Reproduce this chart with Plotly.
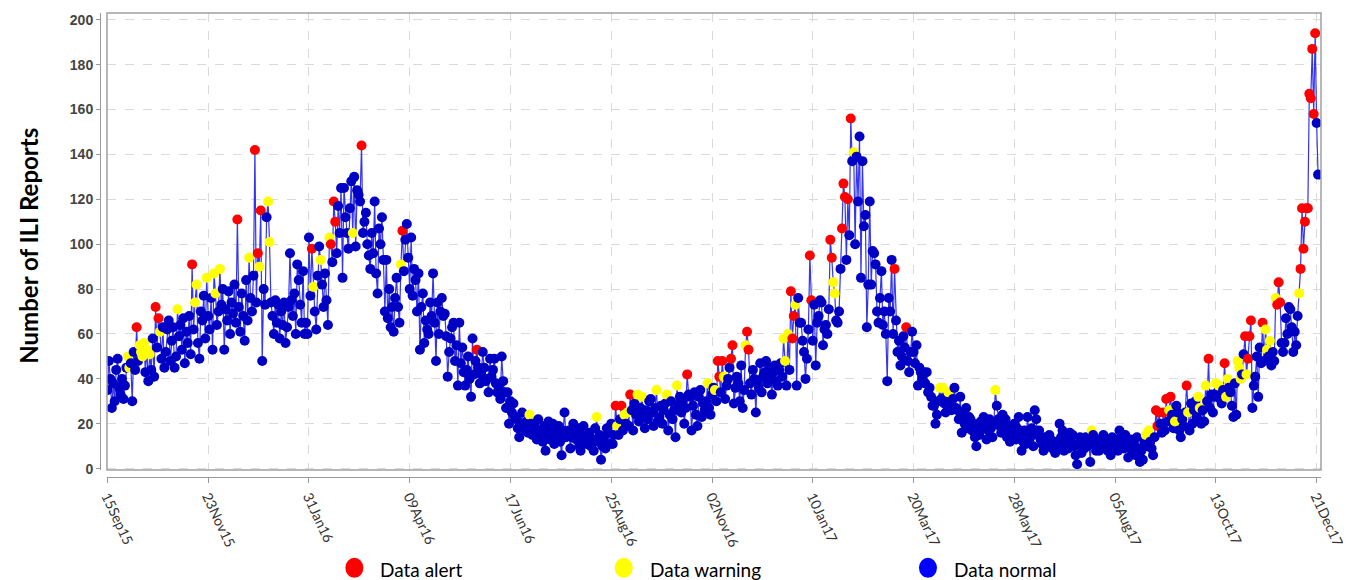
import pandas as pd
import plotly.graph_objects as go

start_date = "2015-09-15"

# Daily ILI report counts, 15 Sep 2015 onwards
reports = [
    35, 48, 40, 27, 38, 30, 44, 49, 36, 33,
    40, 31, 37, 45, 50, 45, 47, 30, 52, 44,
    63, 48, 55, 52, 50, 56, 43, 53, 39, 51,
    44, 58, 41, 72, 54, 67, 61, 49, 63, 45,
    52, 62, 66, 48, 57, 63, 45, 50, 71, 59,
    64, 53, 67, 47, 61, 56, 68, 51, 91, 62,
    74, 82, 56, 49, 70, 66, 77, 58, 85, 68,
    62, 76, 53, 87, 78, 64, 70, 89, 73, 80,
    53, 71, 66, 79, 60, 74, 69, 82, 65, 111,
    72, 61, 78, 68, 57, 84, 66, 94, 76, 70,
    86, 142, 74, 96, 90, 115, 48, 80, 73, 112,
    119, 101, 74, 68, 60, 75, 65, 73, 58, 70,
    64, 74, 56, 63, 72, 96, 75, 68, 78, 60,
    91, 84, 73, 65, 88, 60, 65, 60, 103, 77,
    98, 81, 70, 62, 86, 99, 93, 82, 72, 87,
    75, 64, 103, 100, 92, 119, 110, 96, 117, 105,
    125, 85, 125, 112, 105, 98, 116, 128, 105, 130,
    99, 124, 122, 119, 144, 105, 110, 114, 100, 95,
    89, 105, 96, 119, 87, 78, 107, 100, 112, 93,
    70, 93, 67, 80, 63, 72, 61, 76, 85, 72,
    65, 91, 106, 88, 102, 109, 94, 80, 103, 77,
    89, 84, 70, 87, 53, 72, 78, 56, 66, 62,
    60, 74, 68, 87, 65, 48, 74, 60, 70, 76,
    68, 69, 59, 41, 52, 58, 63, 65, 48, 55,
    37, 65, 47, 54, 43, 37, 44, 50, 40, 32,
    58, 42, 48, 53, 45, 38, 42, 52, 45, 39,
    40, 34, 49, 41, 44, 49, 38, 34, 36, 31,
    50, 39, 34, 27, 34, 20, 30, 25, 29, 23,
    22, 18, 14, 20, 25, 19, 17, 21, 16, 24,
    20, 15, 20, 18, 13, 22, 16, 17, 12, 19,
    8, 15, 21, 13, 18, 20, 11, 16, 14, 19,
    12, 6, 17, 25, 14, 16, 17, 9, 14, 20,
    17, 13, 18, 10, 8, 15, 19, 12, 11, 14,
    16, 10, 13, 8, 18, 23, 12, 15, 4, 10,
    14, 9, 18, 16, 11, 20, 11, 15, 28, 19,
    15, 22, 28, 17, 24, 20, 25, 19, 33, 26,
    17, 29, 24, 33, 21, 27, 32, 24, 18, 26,
    22, 30, 31, 25, 19, 27, 35, 21, 23, 28,
    20, 26, 29, 33, 17, 24, 30, 22, 26, 14,
    37, 28, 32, 25, 30, 20, 27, 42, 33, 32,
    17, 28, 34, 24, 19, 32, 35, 23, 29, 26,
    30, 38, 27, 24, 33, 36, 35, 30, 48, 41,
    34, 48, 41, 31, 37, 40, 45, 49, 55, 29,
    36, 41, 38, 30, 46, 27, 35, 55, 61, 53,
    38, 33, 44, 40, 25, 39, 36, 47, 34, 41,
    43, 48, 38, 45, 40, 33, 43, 46, 39, 37,
    44, 47, 41, 58, 48, 37, 60, 44, 79, 58,
    68, 73, 37, 76, 65, 65, 57, 52, 40, 49,
    62, 95, 75, 57, 73, 46, 65, 68, 75, 74,
    55, 62, 64, 60, 71, 102, 94, 83, 78, 66,
    65, 70, 89, 107, 127, 121, 93, 120, 104, 156,
    137, 141, 100, 139, 119, 148, 85, 137, 108, 113,
    63, 82, 119, 82, 97, 96, 91, 70, 65, 76,
    88, 64, 70, 60, 39, 76, 70, 93, 60, 89,
    66, 52, 57, 46, 50, 59, 54, 63, 48, 43,
    52, 61, 52, 47, 55, 37, 45, 43, 40, 43,
    38, 43, 34, 36, 32, 28, 28, 20, 24, 30,
    36, 31, 36, 29, 25, 30, 34, 28, 26, 31,
    36, 27, 26, 22, 32, 16, 24, 20, 27, 18,
    23, 22, 17, 20, 14, 10, 19, 15, 21, 18,
    23, 20, 13, 17, 22, 18, 14, 20, 35, 28,
    22, 19, 16, 24, 18, 22, 14, 19, 12, 16,
    17, 20, 13, 18, 23, 15, 8, 12, 17, 11,
    23, 16, 14, 18, 10, 26, 22, 15, 17, 13,
    11, 8, 14, 12, 10, 15, 13, 9, 11, 7,
    12, 10, 20, 14, 17, 8, 11, 13, 9, 16,
    12, 15, 10, 6, 2, 11, 14, 7, 12, 9,
    14, 10, 13, 3, 17, 15, 11, 8, 13, 8,
    10, 12, 15, 9, 13, 8, 11, 6, 14, 12,
    10, 13, 8, 17, 14, 12, 9, 15, 11, 5,
    10, 13, 8, 11, 6, 14, 9, 3, 8, 4,
    12, 15, 10, 17, 12, 9, 6, 14, 26, 19,
    25, 20, 16, 25, 17, 31, 21, 26, 32, 24,
    18, 21, 28, 25, 17, 14, 22, 19, 25, 37,
    25, 17, 29, 20, 26, 30, 23, 32, 27, 20,
    26, 21, 37, 30, 49, 27, 33, 25, 32, 38,
    34, 37, 31, 29, 35, 47, 32, 40, 36, 34,
    28, 23, 38, 24, 48, 45, 40, 42, 51, 59,
    42, 49, 59, 66, 27, 37, 41, 50, 32, 54,
    47, 65, 48, 62, 53, 50, 57, 46, 52, 48,
    76, 73, 83, 74, 56, 52, 56, 67, 60, 72,
    71, 63, 52, 61, 55, 68, 78, 89, 116, 98,
    110, 116, 116, 167, 165, 187, 158, 194, 154, 131,
]

# Day indices (from 15 Sep 2015) flagged as alert / warning
alert_days = [20, 33, 35, 58, 89, 101, 103, 105, 140, 153, 155, 156, 174, 202,
              253, 348, 352, 358, 397, 418, 419, 421, 427, 428, 438, 439, 468,
              469, 470, 481, 482, 495, 496, 503, 504, 505, 507, 509, 539, 547,
              718, 719, 720, 723, 725, 728, 739, 754, 765, 779, 781, 782, 783,
              791, 801, 802, 803, 817, 818, 819, 820, 821, 822, 823, 824, 825,
              826, 827]
warning_days = [14, 15, 22, 23, 24, 25, 27, 29, 36, 48, 60, 61, 68, 73, 74, 77,
                97, 104, 110, 111, 141, 146, 152, 168, 201, 289, 335, 349, 354,
                356, 363, 366, 376, 383, 390, 411, 416, 422, 437, 463, 464, 466,
                471, 497, 498, 511, 570, 572, 576, 608, 674, 711, 713, 727, 731,
                740, 747, 748, 752, 759, 761, 766, 767, 774, 775, 776, 780, 793,
                794, 796, 800, 816]

tick_labels = ["15Sep15", "23Nov15", "31Jan16", "09Apr16", "17Jun16", "25Aug16",
               "02Nov16", "10Jan17", "20Mar17", "28May17", "05Aug17", "13Oct17",
               "21Dec17"]
y_ticks = [0, 20, 40, 60, 80, 100, 120, 140, 160, 180, 200]
legend_labels = ["Data alert", "Data warning", "Data normal"]

status_colors = {"alert": "#FF0000", "warning": "#FFFF00", "normal": "#0000C4"}

dates = pd.date_range(start_date, periods=len(reports), freq="D")
status = ["normal"] * len(reports)
for i in warning_days:
    status[i] = "warning"
for i in alert_days:
    status[i] = "alert"

tick_dates = [pd.Timestamp(start_date) + pd.Timedelta(days=69 * k) for k in range(len(tick_labels))]

fig = go.Figure()
fig.add_trace(go.Scatter(
    x=dates, y=reports, mode="lines+markers",
    line=dict(color="#3535ee", width=1.2),
    marker=dict(size=10, color=[status_colors[s] for s in status], line=dict(width=0)),
    showlegend=False, hoverinfo="x+y",
))

# geometry in pixels (page body has an 8px margin)
OFF = 8
W, H = 1351 - OFF, 580 - OFF
L, R, T, B = 92, 27, 4, 103
pw, ph = W - L - R, H - T - B
x_dom0 = 7 / pw
y_dom0 = 7 / ph

x_start = pd.Timestamp(start_date) - pd.Timedelta(hours=7)
x_end = pd.Timestamp(start_date) + pd.Timedelta(days=831)

fig.update_layout(
    width=W, height=H,
    margin=dict(l=L, r=R, t=T, b=B, pad=0),
    plot_bgcolor="white", paper_bgcolor="white",
    xaxis=dict(
        domain=[x_dom0, 1], anchor="free", position=0,
        range=[x_start, x_end], type="date",
        tickmode="array", tickvals=tick_dates, ticktext=tick_labels,
        tickangle=65, tickfont=dict(family="Lato", size=14, color="#333333"),
        ticks="outside", ticklen=5, tickcolor="#999999",
        showline=True, linecolor="#999999", linewidth=1,
        showgrid=True, gridcolor="#dadada", griddash="dash", gridwidth=1,
        zeroline=False,
    ),
    yaxis=dict(
        domain=[y_dom0, 1], anchor="free", position=0,
        range=[-0.6, 203], tickmode="array", tickvals=y_ticks,
        tickfont=dict(family="Liberation Sans", size=14, color="#444444", weight="bold"),
        ticks="outside", ticklen=4, tickcolor="#999999",
        showline=True, linecolor="#999999", linewidth=1,
        showgrid=True, gridcolor="#dadada", griddash="dash", gridwidth=1,
        zeroline=False,
    ),
)

# plot frame
fig.add_shape(type="rect", xref="paper", yref="paper", x0=x_dom0, x1=1, y0=y_dom0, y1=1,
              line=dict(color="#a0a0a0", width=1.5), fillcolor="rgba(0,0,0,0)", layer="above")

# page pixel -> paper coordinates
def px_x(px):
    return (px - OFF - L) / pw

def px_y(py):
    return (T + ph - (py - OFF)) / ph

# y-axis title
fig.add_annotation(text="Number of ILI Reports", xref="paper", yref="paper",
                   x=px_x(28), y=px_y(245), textangle=-90, showarrow=False,
                   xanchor="center", yanchor="middle",
                   font=dict(family="Lato", size=24, color="black", weight="bold"))

# legend (drawn manually below the axis)
legend_px = [355, 625, 930]
legend_cols = [status_colors["alert"], status_colors["warning"], "#0000FF"]
ly = px_y(568)
for px, lab, col in zip(legend_px, legend_labels, legend_cols):
    fig.add_shape(type="circle", xref="paper", yref="paper", xsizemode="pixel", ysizemode="pixel",
                  xanchor=px_x(px), yanchor=ly, x0=-9, x1=9, y0=-10, y1=10,
                  fillcolor=col, line=dict(width=0))
    fig.add_annotation(text=lab, xref="paper", yref="paper", x=px_x(px + 24), y=px_y(570),
                       xanchor="left", yanchor="middle", showarrow=False,
                       font=dict(family="Lato", size=19, color="black"))

assert len(reports) == 830
fig.write_html("out.html")
